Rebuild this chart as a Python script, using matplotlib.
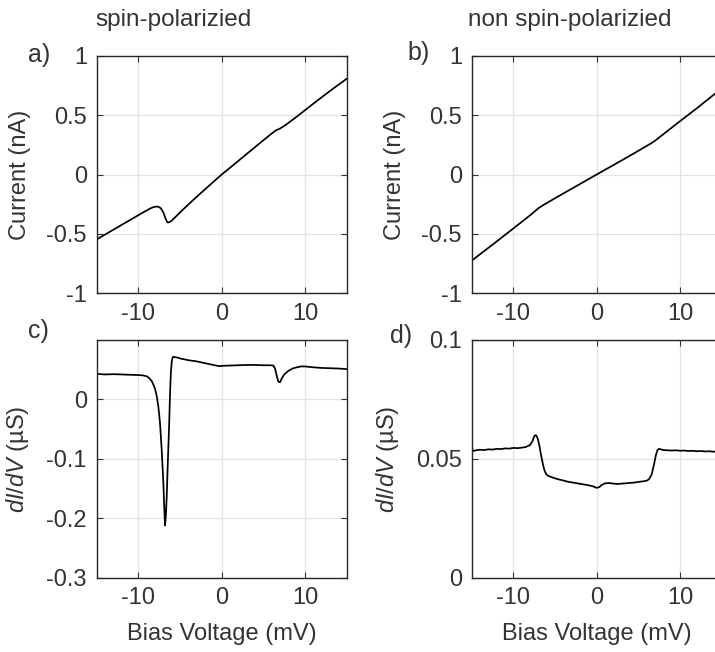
import matplotlib
matplotlib.use("Agg")
import matplotlib.pyplot as plt

plt.rcParams['font.family'] = ['Liberation Sans', 'DejaVu Sans']
plt.rcParams['mathtext.fontset'] = 'custom'
plt.rcParams['mathtext.it'] = 'Liberation Sans:italic'
plt.rcParams['mathtext.rm'] = 'Liberation Sans'

# ---- data ----
va = [-15, -12, -10, -9, -8.5, -8.2, -7.9, -7.6, -7.3, -7.0, -6.8, -6.6, -6.45, -6.3,
      -6.0, -5.5, -5, -4, -3, -2, -1, 0, 1, 2, 3, 4, 5, 6, 6.5, 7, 7.5, 8, 9, 10,
      11, 12, 13, 14, 15]
ia = [-0.548, -0.425, -0.343, -0.303, -0.284, -0.276, -0.271, -0.272, -0.285, -0.320,
      -0.360, -0.395, -0.405, -0.403, -0.390, -0.355, -0.320, -0.253, -0.188, -0.125,
      -0.062, 0.0, 0.057, 0.115, 0.173, 0.231, 0.289, 0.346, 0.372, 0.388, 0.410,
      0.435, 0.488, 0.543, 0.598, 0.652, 0.705, 0.757, 0.808]

vb = [-15, -12, -10, -8, -7, -6.5, -5, -3, 0, 3, 5, 6.5, 7, 8, 10, 12, 15]
ib = [-0.727, -0.565, -0.455, -0.345, -0.285, -0.262, -0.200, -0.120, 0.0, 0.119,
      0.200, 0.262, 0.285, 0.340, 0.450, 0.558, 0.727]

vc = [-15, -14, -13, -12, -11, -10, -9.5, -9, -8.7, -8.4, -8.2, -8.0, -7.8, -7.6, -7.4,
      -7.2, -7.0, -6.9, -6.8, -6.7, -6.6, -6.5, -6.4, -6.3, -6.2, -6.1, -6.0, -5.9, -5.8,
      -5.6, -5.3, -5, -4, -3, -2, -1, -0.5, -0.2, 0, 1, 2, 3, 4, 5, 5.8, 6.2, 6.4, 6.6,
      6.8, 7.0, 7.2, 7.5, 8, 8.5, 9, 9.5, 10, 11, 12, 13, 14, 15]
gc = [0.043, 0.042, 0.0425, 0.042, 0.0415, 0.041, 0.0405, 0.039, 0.036, 0.031, 0.025,
      0.018, 0.006, -0.012, -0.040, -0.085, -0.140, -0.180, -0.212, -0.195, -0.165,
      -0.120, -0.080, -0.040, 0.010, 0.045, 0.063, 0.070, 0.072, 0.071, 0.0705, 0.069,
      0.066, 0.064, 0.061, 0.058, 0.0565, 0.056, 0.0565, 0.057, 0.0575, 0.058, 0.058,
      0.0575, 0.0575, 0.057, 0.052, 0.040, 0.030, 0.029, 0.035, 0.042, 0.048, 0.052,
      0.054, 0.0555, 0.0555, 0.054, 0.053, 0.0525, 0.052, 0.051]

vd = [-15, -14.9, -14.8, -14.5, -14, -13.5, -13, -12.5, -12, -11.5, -11, -10.5, -10,
      -9.5, -9, -8.5, -8, -7.7, -7.5, -7.3, -7.1, -6.9, -6.7, -6.5, -6.3, -6.1, -5.9,
      -5.5, -5, -4.5, -4, -3.5, -3, -2.5, -2, -1.5, -1, -0.5, 0, 0.3, 0.6, 1, 1.5, 2,
      2.5, 3, 3.5, 4, 4.5, 5, 5.5, 6, 6.3, 6.6, 6.9, 7.1, 7.3, 7.5, 8, 8.5, 9, 9.5, 10,
      10.5, 11, 11.5, 12, 12.5, 13, 13.5, 14, 14.5, 15]
gd = [0.0565, 0.0535, 0.0533, 0.0536, 0.0538, 0.0537, 0.0540, 0.0539, 0.0542, 0.0541,
      0.0544, 0.0543, 0.0546, 0.0545, 0.0547, 0.0550, 0.0558, 0.0575, 0.0595, 0.0600,
      0.0588, 0.0560, 0.0520, 0.0485, 0.0455, 0.0438, 0.0430, 0.0424, 0.0418, 0.0413,
      0.0409, 0.0404, 0.0401, 0.0398, 0.0395, 0.0392, 0.0389, 0.0385, 0.0378, 0.0381,
      0.0390, 0.0397, 0.0398, 0.0396, 0.0394, 0.0396, 0.0397, 0.0399, 0.0400, 0.0403,
      0.0405, 0.0408, 0.0415, 0.0435, 0.0480, 0.0515, 0.0538, 0.0542, 0.0537, 0.0536,
      0.0535, 0.0536, 0.0534, 0.0535, 0.0533, 0.0534, 0.0532, 0.0533, 0.0531, 0.0532,
      0.0530, 0.0531, 0.0530]

xticks = [-10, 0, 10]
yticks_iv = [-1, -0.5, 0, 0.5, 1]
ytick_iv_labels = ['-1', '-0.5', '0', '0.5', '1']
yticks_c = [-0.3, -0.2, -0.1, 0]
ytick_c_labels = ['-0.3', '-0.2', '-0.1', '0']
yticks_d = [0, 0.05, 0.1]
ytick_d_labels = ['0', '0.05', '0.1']

TXT = '#333333'
W, H = 715, 652
fig = plt.figure(figsize=(W / 100, H / 100), dpi=100)

def pos(l, t, r, b):
    return [l / W, 1 - b / H, (r - l) / W, (b - t) / H]

axa = fig.add_axes(pos(96.7, 56, 346.7, 293))
axb = fig.add_axes(pos(471.7, 56, 721.7, 293))
axc = fig.add_axes(pos(96.7, 340, 346.7, 577.7))
axd = fig.add_axes(pos(471.7, 340, 721.7, 577.7))

axa.plot(va, ia, color='black', lw=1.25)
axb.plot(vb, ib, color='black', lw=1.25)
axc.plot(vc, gc, color='black', lw=1.25)
axd.plot(vd, gd, color='black', lw=1.25)

FS = 17
for ax in (axa, axb, axc, axd):
    ax.set_xlim(-15, 15)
    ax.set_xticks(xticks)
    ax.set_xticklabels(['-10', '0', '10'])
    ax.grid(True, color='#e3e3e3', lw=0.9)
    ax.set_axisbelow(True)
    ax.tick_params(direction='in', top=True, right=True, length=4, width=0.8,
                   colors=TXT, labelsize=FS, pad=7)
    for s in ax.spines.values():
        s.set_color('#262626')
        s.set_linewidth(1.0)

for ax in (axa, axb):
    ax.set_ylim(-1, 1)
    ax.set_yticks(yticks_iv)
    ax.set_yticklabels(ytick_iv_labels)
    ax.set_ylabel('Current (nA)', fontsize=FS, color=TXT, labelpad=11)

axc.set_ylim(-0.3, 0.1)
axc.set_yticks(yticks_c)
axc.set_yticklabels(ytick_c_labels)
axd.set_ylim(0, 0.1)
axd.set_yticks(yticks_d)
axd.set_yticklabels(ytick_d_labels)
for ax in (axc, axd):
    ax.set_ylabel(r'$dI/dV$ (µS)', fontsize=FS, color=TXT, labelpad=11)
    ax.set_xlabel('Bias Voltage (mV)', fontsize=FS, color=TXT, labelpad=10)

fig.text(95 / W, 1 - 20 / H, 'spin-polarizied', fontsize=17.5, color=TXT,
         ha='left', va='center')
fig.text(468 / W, 1 - 20 / H, 'non spin-polarizied', fontsize=17.5, color=TXT,
         ha='left', va='center')
for lbl, x, y in (('a)', 28, 55), ('b)', 407, 53), ('c)', 28, 331), ('d)', 390, 336)):
    fig.text(x / W, 1 - y / H, lbl, fontsize=18, color=TXT, ha='left', va='center')

fig.savefig('out.png', dpi=100)
